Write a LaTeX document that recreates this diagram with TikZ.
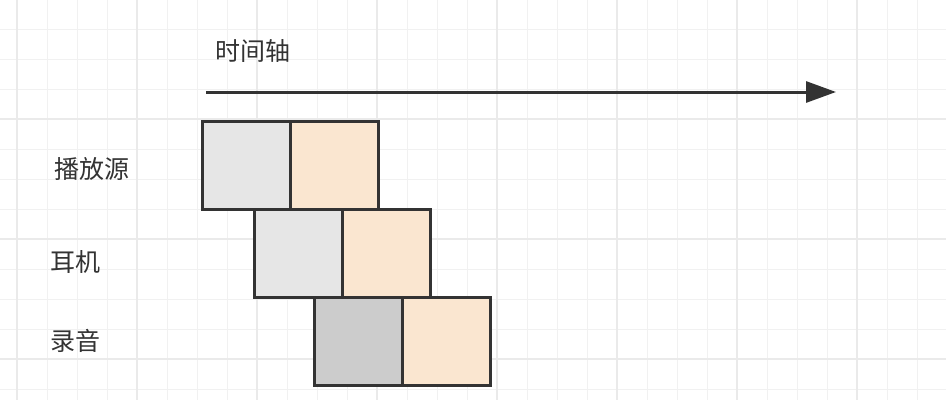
\documentclass[tikz,border=0pt]{standalone}
\usepackage{fontspec}
\setmainfont{Noto Sans CJK SC}
\usetikzlibrary{arrows.meta}
\definecolor{gridminor}{HTML}{F1F1F1}
\definecolor{gridmajor}{HTML}{EAEAEA}
\definecolor{boxgray}{HTML}{E6E6E6}
\definecolor{boxdark}{HTML}{CCCCCC}
\definecolor{boxorange}{HTML}{FAE6D0}
\definecolor{ink}{HTML}{333333}
\tikzset{
  cell/.style={draw=ink, line width=2.6pt, minimum width=88pt, minimum height=88pt, inner sep=0pt, anchor=north west},
  lbl/.style={text=ink, font=\fontsize{25pt}{30pt}\selectfont, inner sep=0pt, anchor=west},
}
\begin{document}
\begin{tikzpicture}[x=1pt,y=-1pt]
\useasboundingbox (0,0) rectangle (946,400);
\fill[white] (0,0) rectangle (946,400);
% grid
\foreach \i in {0,...,31} {\draw[gridminor, line width=1pt] (17+30*\i,0) -- (17+30*\i,400);}
\foreach \i in {0,...,13} {\draw[gridminor, line width=1pt] (0,-1+30*\i) -- (946,-1+30*\i);}
\foreach \i in {0,...,7} {\draw[gridmajor, line width=1.2pt] (17+120*\i,0) -- (17+120*\i,400);}
\foreach \i in {1,...,3} {\draw[gridmajor, line width=1.2pt] (0,-1+120*\i) -- (946,-1+120*\i);}
% axis
\node[lbl] (tl) at (215,51) {时间轴};
\coordinate (axs) at (206,92);
\coordinate (axe) at (836,92);
\draw[ink, line width=3pt, -{Triangle[length=30pt,width=21pt]}] (axs) -- (axe);
% labels
\node[lbl] (l1) at (54,169) {播放源};
\node[lbl] (l2) at (50,262) {耳机};
\node[lbl] (l3) at (50,341) {录音};
% boxes
\node[cell, fill=boxgray] (a1) at (201,120) {};
\node[cell, fill=boxorange] (b1) at (289,120) {};
\node[cell, fill=boxgray] (a2) at (253,208) {};
\node[cell, fill=boxorange] (b2) at (341,208) {};
\node[cell, fill=boxdark] (a3) at (313,296) {};
\node[cell, fill=boxorange] (b3) at (401,296) {};
\end{tikzpicture}
\end{document}
